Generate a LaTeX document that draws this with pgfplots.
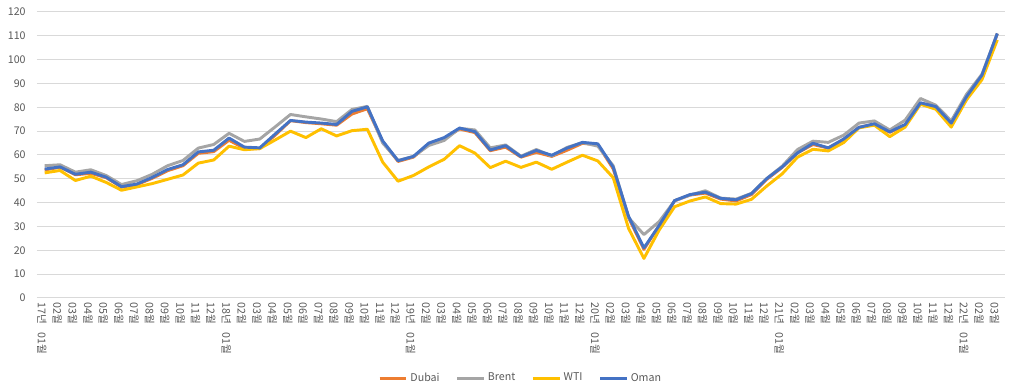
\documentclass[border=0pt]{standalone}
\usepackage{fontspec}
\setmainfont{Noto Sans CJK KR}
\usepackage{pgfplots}
\usepackage{pgfplotstable}
\pgfplotsset{compat=1.18}
\definecolor{cDubai}{HTML}{ED7D31}
\definecolor{cBrent}{HTML}{A5A5A5}
\definecolor{cWTI}{HTML}{FFC000}
\definecolor{cOman}{HTML}{4472C4}
\definecolor{txt}{HTML}{595959}
\definecolor{grd}{HTML}{D9D9D9}

\pgfplotstableread{
x Dubai Brent WTI Oman
0 53.7 55.5 52.5 54.1
1 54.9 55.9 53.5 55.0
2 51.7 52.8 49.3 51.9
3 52.3 53.8 51.1 52.8
4 50.5 51.4 48.5 50.7
5 46.5 47.6 45.2 46.7
6 47.6 49.2 46.6 47.8
7 50.2 51.9 48.0 50.6
8 53.4 55.5 49.8 53.9
9 55.5 57.7 51.6 55.9
10 60.7 62.9 56.6 61.3
11 61.4 64.4 57.9 62.0
12 66.2 69.1 63.7 67.1
13 62.7 65.7 62.2 63.3
14 62.7 66.7 62.7 63.0
15 68.3 71.8 66.3 68.8
16 74.4 77.0 70.0 74.5
17 73.6 76.0 67.3 73.8
18 73.1 75.1 71.0 73.4
19 72.5 74.0 68.0 72.8
20 77.2 79.1 70.2 78.3
21 79.4 80.4 70.8 80.2
22 65.6 65.0 57.0 65.9
23 57.3 57.7 49.0 57.6
24 59.1 59.4 51.4 59.4
25 64.6 64.0 55.0 65.0
26 66.9 66.1 58.2 67.3
27 70.9 71.2 63.9 71.3
28 69.4 70.5 60.8 69.8
29 61.8 63.0 54.7 62.1
30 63.3 64.2 57.4 63.9
31 59.1 59.5 54.8 59.3
32 61.1 62.3 57.0 61.9
33 59.4 59.6 54.0 59.9
34 62.0 63.2 57.0 62.9
35 64.9 65.2 59.9 65.3
36 64.3 63.7 57.5 64.7
37 54.2 55.5 50.5 54.9
38 33.7 33.7 29.2 34.3
39 20.4 26.6 16.6 21.0
40 30.5 32.1 28.6 30.5
41 40.8 40.8 38.3 40.9
42 43.2 43.2 40.7 43.4
43 44.0 45.0 42.4 44.4
44 41.5 41.9 39.6 41.8
45 40.7 41.5 39.4 41.2
46 43.4 43.9 41.4 43.8
47 49.8 50.2 47.0 50.1
48 54.8 55.3 52.1 55.0
49 60.9 62.3 59.1 60.9
50 64.4 65.8 62.4 64.9
51 62.9 65.3 61.7 63.0
52 66.3 68.3 65.2 66.7
53 71.6 73.4 71.4 71.6
54 72.9 74.3 72.5 73.1
55 69.5 70.5 67.7 69.7
56 72.6 74.6 71.7 72.8
57 81.7 83.7 81.3 81.9
58 80.3 80.9 79.2 80.3
59 73.2 74.3 71.7 73.4
60 83.5 85.5 83.2 84.5
61 92.3 93.9 91.6 93.5
62 110.9 110.9 108.3 111.0
}\datatable

\newcommand{\yr}[1]{#1년\hspace{6pt}01월}
\begin{document}
\begin{tikzpicture}
\path[use as bounding box] (-27.75pt,-69.75pt) rectangle (741.75pt,223.5pt);
\begin{axis}[
  scale only axis,
  width=726pt, height=214.5pt,
  xmin=-0.5, xmax=62.5,
  ymin=0, ymax=120,
  ytick={0,10,...,120},
  xtick={0,...,62},
  xticklabels={\yr{17},02월,03월,04월,05월,06월,07월,08월,09월,10월,11월,12월,
    \yr{18},02월,03월,04월,05월,06월,07월,08월,09월,10월,11월,12월,
    \yr{19},02월,03월,04월,05월,06월,07월,08월,09월,10월,11월,12월,
    \yr{20},02월,03월,04월,05월,06월,07월,08월,09월,10월,11월,12월,
    \yr{21},02월,03월,04월,05월,06월,07월,08월,09월,10월,11월,12월,
    \yr{22},02월,03월},
  axis line style={draw=none},
  major tick length=0pt,
  ymajorgrids,
  grid style={grd, line width=0.75pt},
  tick label style={font=\fontsize{8}{9}\selectfont, text=txt},
  xticklabel style={rotate=-90, anchor=west, yshift=-2pt},
  yticklabel style={xshift=-5pt},
  /pgf/number format/assume math mode=true,
  legend columns=4,
  legend style={draw=none, fill=none, at={(axis description cs:0.5,-0.28)}, anchor=center,
    font=\fontsize{8}{9}\selectfont, text=txt,
    /tikz/every even column/.append style={column sep=10pt}},
  legend image code/.code={\draw[#1, line width=2.2pt] (0pt,0pt) -- (20pt,0pt);},
  every axis plot/.append style={line width=2.2pt, line join=round},
]
\addplot[cDubai, no markers] table[x=x, y=Dubai] {\datatable};
\addlegendentry{Dubai}
\addplot[cBrent, no markers] table[x=x, y=Brent] {\datatable};
\addlegendentry{Brent}
\addplot[cWTI, no markers] table[x=x, y=WTI] {\datatable};
\addlegendentry{WTI}
\addplot[cOman, no markers] table[x=x, y=Oman] {\datatable};
\addlegendentry{Oman}
\end{axis}
\end{tikzpicture}
\end{document}
